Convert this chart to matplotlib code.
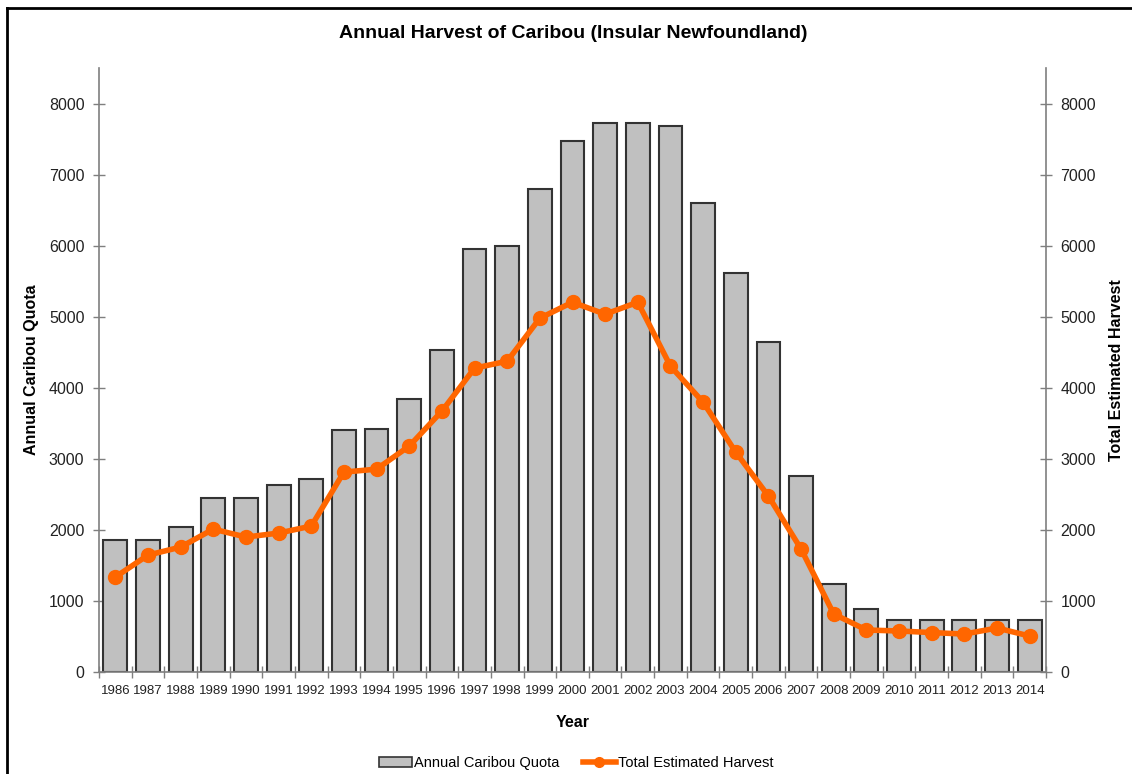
import matplotlib
matplotlib.use("Agg")
import matplotlib.pyplot as plt
from matplotlib.lines import Line2D
from matplotlib.patches import Patch
import numpy as np

years = [str(y) for y in range(1986, 2015)]
quota = [1860, 1860, 2040, 2450, 2450, 2630, 2715, 3400, 3420, 3840, 4530,
         5950, 6000, 6800, 7470, 7720, 7720, 7690, 6600, 5610, 4640, 2760,
         1235, 885, 730, 730, 730, 730, 730]
harvest = [1336, 1645, 1758, 2011, 1899, 1955, 2053, 2813, 2855, 3179, 3671,
           4276, 4374, 4979, 5204, 5035, 5204, 4304, 3797, 3094, 2475, 1730,
           816, 591, 577, 555, 534, 619, 506]
yticks = [0, 1000, 2000, 3000, 4000, 5000, 6000, 7000, 8000]

plt.rcParams['font.family'] = ['Liberation Sans', 'DejaVu Sans']

fig = plt.figure(figsize=(11.32, 7.74), dpi=100)
ax = fig.add_axes([99/1132, 1-672/774, (1046-99)/1132, (672-68)/774])

x = np.arange(len(years))
ax.bar(x, quota, width=0.73, color='#c0c0c0', edgecolor='#333333', linewidth=1.5, zorder=2)
ax.set_xlim(-0.5, len(years)-0.5)
ax.set_ylim(0, 8500)

ax2 = ax.twinx()
ax2.plot(x, harvest, color='#ff6600', linewidth=4, marker='o', markersize=10,
         solid_joinstyle='round', zorder=5)
ax2.set_ylim(0, 8500)
ax2.set_xlim(-0.5, len(years)-0.5)

for a in (ax, ax2):
    a.set_yticks(yticks)
    a.set_yticklabels([str(v) for v in yticks])
    a.spines['top'].set_visible(False)
    for s in a.spines.values():
        s.set_color('#7f7f7f')
        s.set_linewidth(1.2)
    a.tick_params(axis='y', direction='inout', length=9, width=1, color='#7f7f7f',
                  labelsize=11.5, labelcolor='#222222', pad=6)

ax.spines['right'].set_visible(False)
ax2.spines['left'].set_visible(False)
ax2.spines['bottom'].set_visible(False)

ax.set_xticks(x)
ax.set_xticklabels(years)
ax.set_xticks(np.arange(-0.5, len(years), 1.0), minor=True)
ax.tick_params(axis='x', which='major', length=0, labelsize=9.5, labelcolor='#222222', pad=9)
ax.tick_params(axis='x', which='minor', direction='inout', length=8, width=1, color='#7f7f7f')

ax.set_xlabel('Year', fontsize=11.5, fontweight='bold', labelpad=13)
ax.set_ylabel('Annual Caribou Quota', fontsize=11.5, fontweight='bold', labelpad=7)
ax2.set_ylabel('Total Estimated Harvest', fontsize=11.5, fontweight='bold', labelpad=9)

fig.text(573/1132, 1-33/774, 'Annual Harvest of Caribou (Insular Newfoundland)',
         ha='center', va='center', fontsize=14, fontweight='bold')

handles = [Patch(facecolor='#c0c0c0', edgecolor='#333333', linewidth=1.2),
           Line2D([0], [0], color='#ff6600', linewidth=4, marker='o', markersize=7)]
fig.legend(handles, ['Annual Caribou Quota', 'Total Estimated Harvest'],
           loc='center', bbox_to_anchor=(576/1132, 1-763/774), ncol=2, frameon=False,
           fontsize=10.5, handlelength=2.3, handletextpad=0.1, columnspacing=1.6)

# figure border (left and top)
fig.add_artist(Line2D([7/1132, 7/1132], [0, 1-8/774], transform=fig.transFigure,
                      color='black', linewidth=2))
fig.add_artist(Line2D([7/1132, 1], [1-8/774, 1-8/774], transform=fig.transFigure,
                      color='black', linewidth=2))

fig.savefig('out.png', dpi=100)
